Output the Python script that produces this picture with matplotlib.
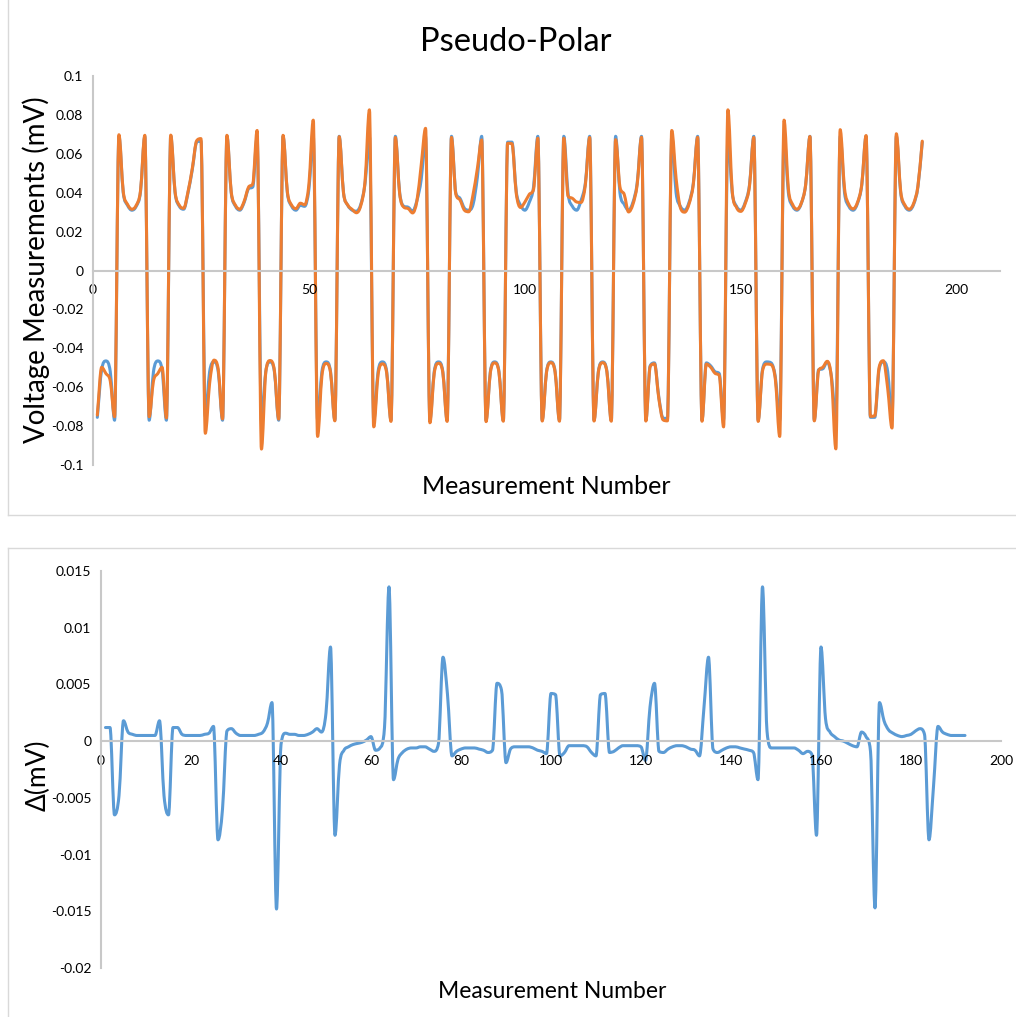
import matplotlib
matplotlib.use('Agg')
import matplotlib.pyplot as plt
from matplotlib.lines import Line2D
from matplotlib.path import Path
from matplotlib.patches import PathPatch

plt.rcParams['font.family'] = ['Lato', 'DejaVu Sans']

# measurement index 1..192
measurement = list(range(1, 193))

# first voltage series (blue)
volt_a = [
    -0.0755, -0.0510, -0.0465, -0.0520, -0.0770,
    0.0690, 0.0400, 0.0335, 0.0310, 0.0330, 0.0405, 0.0690,
    -0.0770, -0.0520, -0.0465, -0.0510, -0.0770,
    0.0690, 0.0400, 0.0330, 0.0315, 0.0400, 0.0520, 0.0660, 0.0665,
    -0.0750, -0.0520, -0.0470, -0.0520, -0.0770,
    0.0690, 0.0400, 0.0330, 0.0310, 0.0350, 0.0420, 0.0430, 0.0686,
    -0.0770, -0.0520, -0.0470, -0.0520, -0.0770,
    0.0690, 0.0400, 0.0330, 0.0310, 0.0335, 0.0330, 0.0420, 0.0690,
    -0.0770, -0.0520, -0.0470, -0.0520, -0.0770,
    0.0690, 0.0400, 0.0335, 0.0310, 0.0305, 0.0340, 0.0450, 0.0690,
    -0.0770, -0.0520, -0.0470, -0.0520, -0.0770,
    0.0690, 0.0400, 0.0330, 0.0325, 0.0305, 0.0360, 0.0470, 0.0690,
    -0.0770, -0.0520, -0.0470, -0.0520, -0.0770,
    0.0690, 0.0400, 0.0370, 0.0320, 0.0310, 0.0340, 0.0480, 0.0690,
    -0.0770, -0.0520, -0.0470, -0.0520, -0.0770,
    0.0660, 0.0660, 0.0405, 0.0335, 0.0310, 0.0350, 0.0430, 0.0690,
    -0.0770, -0.0520, -0.0470, -0.0520, -0.0770,
    0.0690, 0.0395, 0.0330, 0.0310, 0.0360, 0.0450, 0.0690,
    -0.0770, -0.0520, -0.0470, -0.0520, -0.0770,
    0.0690, 0.0400, 0.0340, 0.0310, 0.0350, 0.0450, 0.0690,
    -0.0770, -0.0490, -0.0475, -0.0650, -0.0760, -0.0760,
    0.0690, 0.0400, 0.0330, 0.0310, 0.0350, 0.0450, 0.0690,
    -0.0770, -0.0475, -0.0490, -0.0520, -0.0530, -0.0770,
    0.0690, 0.0400, 0.0330, 0.0310, 0.0350, 0.0440, 0.0690,
    -0.0770, -0.0510, -0.0470, -0.0475, -0.0550, -0.0770,
    0.0690, 0.0400, 0.0330, 0.0310, 0.0345, 0.0440, 0.0690,
    -0.0770, -0.0510, -0.0505, -0.0470, -0.0550, -0.0770,
    0.0690, 0.0400, 0.0330, 0.0310, 0.0345, 0.0440, 0.0690,
    -0.0755, -0.0755, -0.0510, -0.0470, -0.0520, -0.0770,
    0.0690, 0.0400, 0.0330, 0.0310, 0.0340, 0.0430, 0.0660,
]

# second voltage series (orange)
volt_b = [
    -0.0743, -0.0498, -0.0530, -0.0568, -0.0752,
    0.0698, 0.0406, 0.0340, 0.0315, 0.0335, 0.0410, 0.0695,
    -0.0752, -0.0568, -0.0530, -0.0498, -0.0758,
    0.0696, 0.0405, 0.0335, 0.0320, 0.0405, 0.0526, 0.0667, 0.0678,
    -0.0837, -0.0580, -0.0461, -0.0509, -0.0763,
    0.0695, 0.0405, 0.0335, 0.0315, 0.0356, 0.0428, 0.0446, 0.0720,
    -0.0918, -0.0523, -0.0463, -0.0514, -0.0764,
    0.0695, 0.0405, 0.0336, 0.0318, 0.0346, 0.0338, 0.0445, 0.0773,
    -0.0853, -0.0541, -0.0478, -0.0525, -0.0773,
    0.0688, 0.0399, 0.0336, 0.0314, 0.0297, 0.0334, 0.0462, 0.0826,
    -0.0804, -0.0536, -0.0480, -0.0527, -0.0776,
    0.0684, 0.0395, 0.0325, 0.0318, 0.0296, 0.0358, 0.0544, 0.0731,
    -0.0783, -0.0529, -0.0477, -0.0526, -0.0776,
    0.0684, 0.0393, 0.0362, 0.0310, 0.0302, 0.0391, 0.0525, 0.0671,
    -0.0777, -0.0525, -0.0475, -0.0525, -0.0775,
    0.0654, 0.0652, 0.0396, 0.0324, 0.0352, 0.0391, 0.0417, 0.0680,
    -0.0774, -0.0524, -0.0474, -0.0524, -0.0775,
    0.0680, 0.0382, 0.0371, 0.0352, 0.0350, 0.0441, 0.0684,
    -0.0774, -0.0524, -0.0474, -0.0524, -0.0775,
    0.0673, 0.0430, 0.0391, 0.0301, 0.0340, 0.0443, 0.0685,
    -0.0774, -0.0494, -0.0480, -0.0657, -0.0768, -0.0773,
    0.0720, 0.0474, 0.0323, 0.0300, 0.0342, 0.0444, 0.0685,
    -0.0775, -0.0481, -0.0497, -0.0528, -0.0540, -0.0804,
    0.0826, 0.0409, 0.0324, 0.0304, 0.0344, 0.0434, 0.0684,
    -0.0776, -0.0518, -0.0481, -0.0484, -0.0562, -0.0853,
    0.0773, 0.0420, 0.0339, 0.0315, 0.0347, 0.0440, 0.0689,
    -0.0773, -0.0515, -0.0497, -0.0467, -0.0559, -0.0917,
    0.0724, 0.0422, 0.0340, 0.0317, 0.0350, 0.0444, 0.0694,
    -0.0750, -0.0747, -0.0499, -0.0464, -0.0607, -0.0810,
    0.0703, 0.0408, 0.0336, 0.0315, 0.0345, 0.0435, 0.0665,
]

# difference between the two series (lower chart)
delta = [
    0.0012, 0.0012, -0.0065, -0.0048, 0.0018,
    0.0008, 0.0006, 0.0005, 0.0005, 0.0005, 0.0005, 0.0005,
    0.0018, -0.0048, -0.0065, 0.0012, 0.0012,
    0.0006, 0.0005, 0.0005, 0.0005, 0.0005, 0.0006, 0.0007, 0.0013,
    -0.0087, -0.0060, 0.0009, 0.0011, 0.0007,
    0.0005, 0.0005, 0.0005, 0.0005, 0.0006, 0.0008, 0.0016, 0.0034,
    -0.0148, -0.0003, 0.0007, 0.0006, 0.0006,
    0.0005, 0.0005, 0.0006, 0.0008, 0.0011, 0.0008, 0.0025, 0.0083,
    -0.0083, -0.0021, -0.0008, -0.0005, -0.0003,
    -0.0002, -0.0001, 0.0001, 0.0004, -0.0008, -0.0006, 0.0012, 0.0136,
    -0.0034, -0.0016, -0.0010, -0.0007, -0.0006,
    -0.0006, -0.0005, -0.0005, -0.0007, -0.0009, -0.0002, 0.0074, 0.0041,
    -0.0013, -0.0009, -0.0007, -0.0006, -0.0006,
    -0.0006, -0.0007, -0.0008, -0.0010, -0.0008, 0.0051, 0.0045, -0.0019,
    -0.0007, -0.0005, -0.0005, -0.0005, -0.0005,
    -0.0006, -0.0008, -0.0009, -0.0011, 0.0042, 0.0041, -0.0013, -0.0010,
    -0.0004, -0.0004, -0.0004, -0.0004, -0.0005,
    -0.0010, -0.0013, 0.0041, 0.0042, -0.0010, -0.0009, -0.0006,
    -0.0004, -0.0004, -0.0004, -0.0004, -0.0005,
    -0.0017, 0.0030, 0.0051, -0.0009, -0.0010, -0.0007, -0.0005,
    -0.0004, -0.0004, -0.0005, -0.0007, -0.0008, -0.0013,
    0.0030, 0.0074, -0.0007, -0.0010, -0.0008, -0.0006, -0.0005,
    -0.0005, -0.0006, -0.0007, -0.0008, -0.0010, -0.0034,
    0.0136, 0.0009, -0.0006, -0.0006, -0.0006, -0.0006, -0.0006,
    -0.0006, -0.0008, -0.0011, -0.0009, -0.0012, -0.0083,
    0.0083, 0.0020, 0.0008, 0.0004, 0.0001, 0.0000, -0.0002,
    -0.0004, -0.0005, 0.0008, 0.0004, -0.0009, -0.0147,
    0.0034, 0.0018, 0.0010, 0.0007, 0.0005, 0.0004, 0.0005,
    0.0006, 0.0009, 0.0011, 0.0006, -0.0087, -0.0040,
    0.0013, 0.0008, 0.0006, 0.0005, 0.0005, 0.0005, 0.0005,
]

top_xticks = [0, 50, 100, 150, 200]
top_yticks = [-0.1, -0.08, -0.06, -0.04, -0.02, 0, 0.02, 0.04, 0.06, 0.08, 0.1]
top_ylabels = ['-0.1', '-0.08', '-0.06', '-0.04', '-0.02', '0',
               '0.02', '0.04', '0.06', '0.08', '0.1']
bot_xticks = [0, 20, 40, 60, 80, 100, 120, 140, 160, 180, 200]
bot_yticks = [-0.02, -0.015, -0.01, -0.005, 0, 0.005, 0.01, 0.015]
bot_ylabels = ['-0.02', '-0.015', '-0.01', '-0.005', '0', '0.005', '0.01', '0.015']

BLUE = '#5B9BD5'
ORANGE = '#ED7D31'
AXIS = '#c8c8c8'
W, H = 1016, 1017


def fx(px):
    return px / W


def fy(py):
    return 1 - py / H


def smooth_line(ax, x, y, color):
    # smoothed line like Excel's: cubic bezier through every point
    # (monotone tangents so the curve does not shoot past the values)
    n = len(x)
    d = [(y[i + 1] - y[i]) / (x[i + 1] - x[i]) for i in range(n - 1)]
    m = [0.0] * n
    m[0] = d[0]
    m[-1] = d[-1]
    for i in range(1, n - 1):
        if d[i - 1] * d[i] <= 0:
            m[i] = 0.0
        else:
            t = (d[i - 1] + d[i]) / 2
            lim = 3 * min(abs(d[i - 1]), abs(d[i]))
            if abs(t) > lim:
                t = lim if t > 0 else -lim
            m[i] = t
    verts = [(x[0], y[0])]
    codes = [Path.MOVETO]
    for i in range(n - 1):
        h = x[i + 1] - x[i]
        verts += [(x[i] + h / 3, y[i] + m[i] * h / 3),
                  (x[i + 1] - h / 3, y[i + 1] - m[i + 1] * h / 3),
                  (x[i + 1], y[i + 1])]
        codes += [Path.CURVE4] * 3
    ax.add_patch(PathPatch(Path(verts, codes), fill=False, edgecolor=color,
                           lw=2.2, joinstyle='round', capstyle='round'))


def style_axes(ax):
    ax.spines['bottom'].set_position('zero')
    ax.spines['top'].set_visible(False)
    ax.spines['right'].set_visible(False)
    for s in ('bottom', 'left'):
        ax.spines[s].set_color(AXIS)
        ax.spines[s].set_linewidth(1.5)
    ax.tick_params(axis='both', length=0, labelsize=10, colors='black')
    ax.tick_params(axis='x', pad=10)
    ax.tick_params(axis='y', pad=7)
    ax.set_facecolor('none')


fig = plt.figure(figsize=(10.16, 10.17), dpi=100)

# upper chart
ax1 = fig.add_axes([fx(93), fy(465), fx(1000) - fx(93), fy(76) - fy(465)])
smooth_line(ax1, measurement, volt_a, BLUE)
smooth_line(ax1, measurement, volt_b, ORANGE)
ax1.set_xlim(0, 210)
ax1.set_ylim(-0.1, 0.1)
ax1.set_xticks(top_xticks)
ax1.set_yticks(top_yticks)
ax1.set_yticklabels(top_ylabels)
style_axes(ax1)

fig.text(fx(516), fy(42), 'Pseudo-Polar', ha='center', va='center', fontsize=23.5)
fig.text(fx(36), fy(270), 'Voltage Measurements (mV)', rotation=90,
         ha='center', va='center', fontsize=20)
fig.text(fx(546), fy(486), 'Measurement Number', ha='center', va='center', fontsize=18)

# lower chart
ax2 = fig.add_axes([fx(101), fy(968), fx(1001) - fx(101), fy(571) - fy(968)])
smooth_line(ax2, measurement, delta, BLUE)
ax2.set_xlim(0, 200)
ax2.set_ylim(-0.02, 0.015)
ax2.set_xticks(bot_xticks)
ax2.set_yticks(bot_yticks)
ax2.set_yticklabels(bot_ylabels)
style_axes(ax2)

fig.text(fx(38), fy(775), '\u0394(mV)', rotation=90, ha='center', va='center', fontsize=19)
fig.text(fx(552), fy(992), 'Measurement Number', ha='center', va='center', fontsize=16.5)

# chart area borders
border = '#d9d9d9'
fig.add_artist(Line2D([fx(8), fx(8)], [fy(0), fy(515)], transform=fig.transFigure, color=border, lw=1))
fig.add_artist(Line2D([fx(8), fx(1016)], [fy(515), fy(515)], transform=fig.transFigure, color=border, lw=1))
fig.add_artist(Line2D([fx(8), fx(1016)], [fy(548), fy(548)], transform=fig.transFigure, color=border, lw=1))
fig.add_artist(Line2D([fx(8), fx(8)], [fy(548), fy(1017)], transform=fig.transFigure, color=border, lw=1))

fig.savefig('out.png', dpi=100, facecolor='white')
